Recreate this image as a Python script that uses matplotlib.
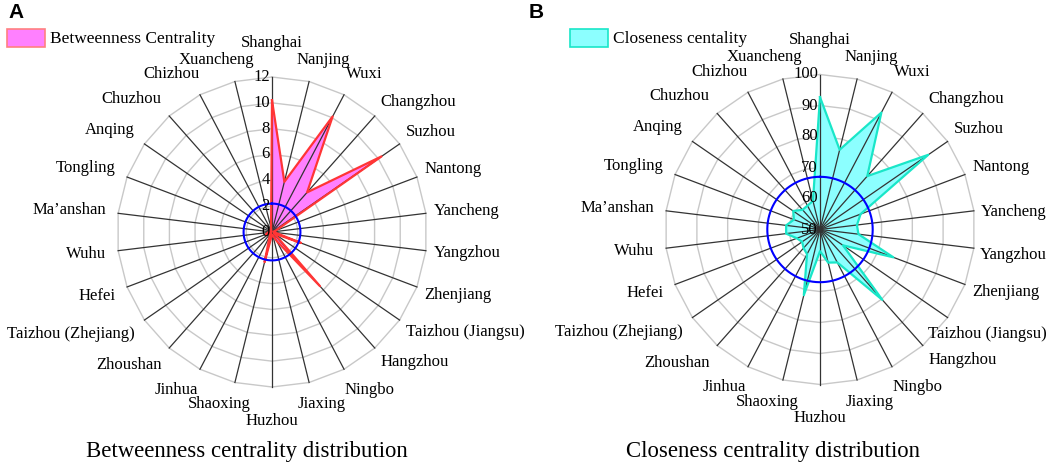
import numpy as np
import matplotlib
matplotlib.use('Agg')
import matplotlib.pyplot as plt
from matplotlib.patches import Rectangle

plt.rcParams['font.family'] = ['Liberation Serif', 'DejaVu Serif']

cities = ['Shanghai', 'Nanjing', 'Wuxi', 'Changzhou', 'Suzhou', 'Nantong',
          'Yancheng', 'Yangzhou', 'Zhenjiang', 'Taizhou (Jiangsu)', 'Hangzhou',
          'Ningbo', 'Jiaxing', 'Huzhou', 'Shaoxing', 'Jinhua', 'Zhoushan',
          'Taizhou (Zhejiang)', 'Hefei', 'Wuhu', 'Ma\u2019anshan', 'Tongling',
          'Anqing', 'Chuzhou', 'Chizhou', 'Xuancheng']

betweenness = [10.2, 4.0, 10.1, 4.1, 10.3, 0.3, 0.1, 0.2, 2.4, 0.2, 5.6, 0.8, 0.3,
               0.2, 2.4, 0.4, 0.1, 0.2, 0.5, 0.3, 0.2, 0.1, 0.2, 0.2, 0.1, 0.3]
closeness = [92.7, 76.5, 92.6, 73.0, 92.4, 64.0, 62.0, 62.5, 75.3, 59.0, 80.3, 62.0,
             61.0, 57.0, 71.8, 59.0, 58.0, 57.0, 58.0, 61.0, 61.0, 59.0, 60.5,
             58.5, 58.7, 59.5]
betweenness_mean = 2.2
closeness_mean = 67.0
bc_ticks = [0, 2, 4, 6, 8, 10, 12]
cc_ticks = [50, 60, 70, 80, 90, 100]

W, H = 1059, 466
fig = plt.figure(figsize=(W / 100, H / 100), dpi=100)
renderer = fig.canvas.get_renderer()


def radar(cx, cy, values, ticks, mean, fill, edge):
    R = 155
    ax = fig.add_axes([(cx - R) / W, 1 - (cy + R) / H, 2 * R / W, 2 * R / H],
                      projection='polar')
    ax.set_theta_zero_location('N')
    ax.set_theta_direction(-1)
    rmin, rmax = ticks[0], ticks[-1]
    ax.set_ylim(rmin, rmax)
    ax.axis('off')

    n = len(cities)
    th = np.arange(n) * 2 * np.pi / n
    thc = np.append(th, th[0])
    vals = np.append(values, values[0])

    # polygon grid
    for t in ticks[1:]:
        ax.plot(thc, [t] * (n + 1), color='#c8c8c8', lw=1, zorder=1, clip_on=False)
    ax.fill(thc, vals, color=fill, zorder=2, lw=0)
    for t in th:
        ax.plot([t, t], [rmin, rmax], color='#333333', lw=0.9, zorder=3, clip_on=False)
    ax.plot(thc, vals, color=edge, lw=1.6, zorder=4)
    circ = np.linspace(0, 2 * np.pi, 300)
    ax.plot(circ, [mean] * len(circ), color='#0000ff', lw=1.5, zorder=5)

    for t in ticks:
        ax.annotate(str(t), xy=(0, t), xytext=(-1.5, 0), textcoords='offset points',
                    ha='right', va='center', fontsize=12, zorder=6)

    # category labels, placed outside the ring in pixel space
    for t, name in zip(th, cities):
        s, c = np.sin(t), np.cos(t)
        txt = fig.text(0, 0, name, ha='center', va='center', fontsize=12)
        bb = txt.get_window_extent(renderer)
        w, h = bb.width, bb.height
        if abs(s) < 0.05:
            g = 26
        elif abs(s) < 0.5:
            g = 14
        elif s > 0:
            g = 8
        else:
            g = 12
        px = cx + (R + g) * s + w / 2 * np.clip(s / 0.6, -1, 1)
        py = cy - (R + g) * c - h / 2 * np.clip(c / 0.6, -1, 1)
        # keep label inside the figure, pushing it down/up a bit instead
        over = px + w / 2 - (W - 12)
        if over > 0:
            px -= over
            py += 4
        under = 6 - (px - w / 2)
        if under > 0:
            px += under
        txt.set_position((px / W, 1 - py / H))
    return ax


radar(272, 232, betweenness, bc_ticks, betweenness_mean, '#ff80ff', '#ff3535')
radar(820, 229.5, closeness, cc_ticks, closeness_mean, '#8cffff', '#19e6c8')


def legend_box(x, label, fill, edge):
    fig.add_artist(Rectangle((x / W, 1 - 47 / H), 38 / W, 18 / H, transform=fig.transFigure,
                             facecolor=fill, edgecolor=edge, lw=1.2))
    fig.text((x + 43) / W, 1 - 39 / H, label, ha='left', va='center', fontsize=12.5)


legend_box(7, 'Betweenness Centrality', '#ff80ff', '#ff8080')
legend_box(570, 'Closeness centality', '#8cffff', '#19e6c8')

fig.text(8 / W, 1 - 13 / H, 'A', family='Liberation Sans', fontweight='bold',
         fontsize=15, ha='left', va='center')
fig.text(529 / W, 1 - 13 / H, 'B', family='Liberation Sans', fontweight='bold',
         fontsize=15, ha='left', va='center')

fig.text(247 / W, 1 - 452 / H, 'Betweenness centrality distribution',
         ha='center', va='center', fontsize=16.4)
fig.text(773 / W, 1 - 452 / H, 'Closeness centrality distribution',
         ha='center', va='center', fontsize=16.4)

fig.savefig('out.png', dpi=100)
